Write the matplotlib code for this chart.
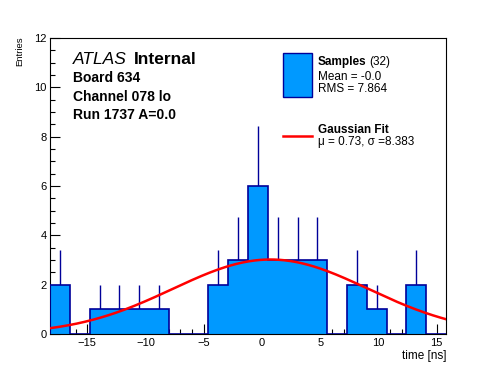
import matplotlib
matplotlib.use('Agg')

import numpy as np
import matplotlib.pyplot as plt
from matplotlib.patches import Rectangle
from matplotlib.lines import Line2D

plt.rcParams['font.family'] = ['Liberation Sans', 'DejaVu Sans']

# histogram: 20 bins between x_lo and x_hi
x_lo, x_hi, n_bins = -18.2, 15.8, 20
counts = [2, 0, 1, 1, 1, 1, 0, 0, 2, 3, 6, 3, 3, 3, 0, 2, 1, 0, 2, 0]

# gaussian fit parameters
fit_amp = 3.02
fit_mu = 0.73
fit_sigma = 8.383

info_lines = ['Board 634', 'Channel 078 lo', 'Run 1737 A=0.0']

W, H = 496, 372
fill_col = '#0099ff'
edge_col = '#000099'

fig = plt.figure(figsize=(W / 100, H / 100), dpi=100)
ax = fig.add_axes([50 / W, 1 - 334 / H, 396 / W, 296 / H])

edges = np.linspace(x_lo, x_hi, n_bins + 1)
centers = 0.5 * (edges[:-1] + edges[1:])
counts = np.array(counts, dtype=float)
errs = np.sqrt(counts)

# error bars (only the part above the fill shows)
nz = counts > 0
ax.vlines(centers[nz], counts[nz] - errs[nz], counts[nz] + errs[nz],
          color=edge_col, lw=1.0, zorder=1)
ax.stairs(counts, edges, fill=True, color=fill_col, zorder=2)
ax.stairs(counts, edges, color=edge_col, lw=1.2, zorder=3)

xs = np.linspace(x_lo, x_hi, 400)
ax.plot(xs, fit_amp * np.exp(-0.5 * ((xs - fit_mu) / fit_sigma) ** 2),
        color='#ff0000', lw=1.8, zorder=4)

ax.set_xlim(x_lo, x_hi)
ax.set_ylim(0, 12)
ax.set_xticks([-15, -10, -5, 0, 5, 10, 15])
ax.set_xticks(np.arange(-18, 16, 1), minor=True)
ax.set_yticks(np.arange(0, 13, 2))
ax.set_yticks(np.arange(0, 12.1, 0.5), minor=True)
ax.tick_params(which='both', direction='in', width=0.8, labelsize=8.0,
               top=False, right=False)
ax.tick_params(which='major', length=7)
ax.tick_params(which='minor', length=3.6)
ax.tick_params(axis='x', pad=3)
ax.tick_params(axis='y', pad=2.5)
for sp in ax.spines.values():
    sp.set_linewidth(0.8)

ax.set_xlabel('time [ns]', loc='right', fontsize=8.5)
ax.xaxis.label.set_va('baseline')
ax.xaxis.set_label_coords(1.0, -24.5 / 296)
ax.set_ylabel('Entries', loc='top', fontsize=6.8)
ax.yaxis.set_label_coords(-0.066, 1.007)


def fx(px):
    return px / W


def fy(py):
    return 1 - py / H


fig.text(fx(73), fy(63.5), 'ATLAS', style='italic', fontsize=12.5, va='baseline')
fig.text(fx(134), fy(63.5), 'Internal', weight='bold', fontsize=12.5, va='baseline')
for i, line in enumerate(info_lines):
    fig.text(fx(73), fy(82 + i * 18.7), line, weight='bold', fontsize=10, va='baseline')

# legend
fig.patches.append(Rectangle((fx(283), fy(97)), 29 / W, 44 / H, transform=fig.transFigure,
                             facecolor=fill_col, edgecolor=edge_col, lw=1.0))
fig.text(fx(318), fy(65), 'Samples', weight='bold', fontsize=8.5, va='baseline')
fig.text(fx(369), fy(65), '(32)', fontsize=8.5, va='baseline')
fig.text(fx(318), fy(80), 'Mean = -0.0', fontsize=8.5, va='baseline')
fig.text(fx(318), fy(92), 'RMS = 7.864', fontsize=8.5, va='baseline')

fig.lines.append(Line2D([fx(283), fx(312)], [fy(136), fy(136)], transform=fig.transFigure,
                        color='#ff0000', lw=1.8))
fig.text(fx(318), fy(133), 'Gaussian Fit', weight='bold', fontsize=8.5, va='baseline')
fig.text(fx(318), fy(145), '\u03bc = 0.73, \u03c3 =8.383', fontsize=8.5, va='baseline')

fig.savefig('out.png', dpi=100)
